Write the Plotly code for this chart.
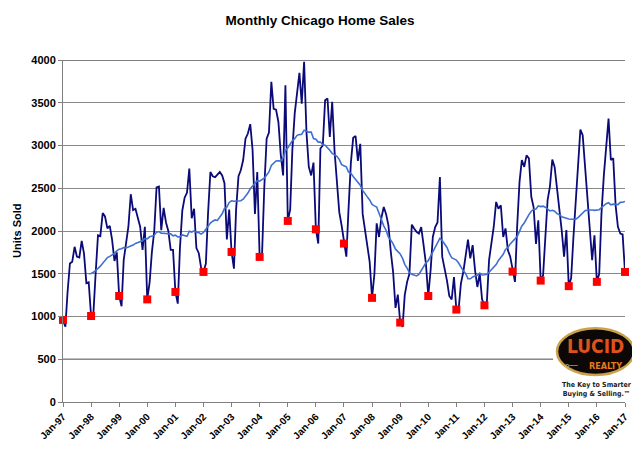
import pandas as pd
import plotly.graph_objects as go

# Monthly Chicago home sales, Jan-1997 .. Jan-2017
sales_1997 = [960, 880, 1280, 1620, 1640, 1815, 1700, 1690, 1885, 1735, 1390, 1400]
sales_1998 = [1006, 1050, 1500, 1950, 1940, 2210, 2170, 2030, 2060, 1900, 1650, 1750]
sales_1999 = [1240, 1120, 1660, 1890, 2050, 2430, 2245, 2260, 2165, 2050, 1780, 2050]
sales_2000 = [1200, 1400, 1750, 2000, 2510, 2520, 2010, 2270, 2100, 2000, 1780, 1780]
sales_2001 = [1287, 1150, 1800, 2240, 2390, 2450, 2730, 2150, 2260, 1800, 1740, 1570]
sales_2002 = [1521, 1620, 2200, 2690, 2640, 2630, 2660, 2690, 2650, 2560, 1900, 2250]
sales_2003 = [1755, 1560, 2250, 2640, 2710, 2830, 3080, 3140, 3250, 2950, 2200, 2690]
sales_2004 = [1697, 1720, 2500, 3080, 3150, 3745, 3430, 3420, 3275, 2900, 2650, 3705]
sales_2005 = [2118, 2250, 2945, 3375, 3610, 3850, 3490, 3978, 3150, 2750, 2650, 2800]
sales_2006 = [2020, 1853, 2965, 3000, 3530, 3550, 3100, 3510, 2930, 2575, 2220, 2067]
sales_2007 = [1853, 1700, 2250, 2800, 3090, 3110, 2820, 3020, 2200, 2030, 1850, 1640]
sales_2008 = [1218, 1500, 2090, 1930, 2150, 2280, 2200, 2067, 1755, 1520, 1100, 1257]
sales_2009 = [929, 878, 1250, 1405, 1500, 2075, 2030, 1990, 1970, 2045, 1835, 1620]
sales_2010 = [1240, 1550, 1930, 2045, 2100, 2630, 1700, 1570, 1420, 1240, 1200, 1460]
sales_2011 = [1081, 1100, 1385, 1520, 1735, 1900, 1680, 1835, 1540, 1345, 1500, 1200]
sales_2012 = [1131, 1160, 1660, 1850, 2050, 2340, 2260, 2300, 1930, 2030, 1775, 1700]
sales_2013 = [1525, 1405, 2050, 2575, 2830, 2750, 2885, 2850, 2400, 2280, 1850, 2125]
sales_2014 = [1420, 1480, 1900, 2360, 2520, 2835, 2750, 2515, 2245, 2010, 1700, 2010]
sales_2015 = [1355, 1450, 1900, 2360, 2750, 3187, 3120, 2750, 2360, 2050, 1660, 1950]
sales_2016 = [1405, 1500, 2200, 2650, 3000, 3315, 2830, 2850, 2300, 2050, 1970, 1960]
sales_2017 = [1521]

y_ticks = [0, 500, 1000, 1500, 2000, 2500, 3000, 3500, 4000]
dark_grid = [500, 1000, 4000]

sales = (sales_1997 + sales_1998 + sales_1999 + sales_2000 + sales_2001 + sales_2002 +
         sales_2003 + sales_2004 + sales_2005 + sales_2006 + sales_2007 + sales_2008 +
         sales_2009 + sales_2010 + sales_2011 + sales_2012 + sales_2013 + sales_2014 +
         sales_2015 + sales_2016 + sales_2017)
months = pd.date_range("1997-01-01", periods=len(sales), freq="MS")
s = pd.Series(sales, index=months)
ma12 = s.rolling(12).mean()
jan = s[s.index.month == 1]

fig = go.Figure()
fig.add_trace(go.Scatter(x=months, y=sales, mode="lines",
                         line=dict(color="#0a0a78", width=1.8), cliponaxis=False))
fig.add_trace(go.Scatter(x=months, y=ma12, mode="lines",
                         line=dict(color="#3f6fd0", width=1.6), cliponaxis=False))
fig.add_trace(go.Scatter(x=jan.index, y=jan.values, mode="markers",
                         marker=dict(symbol="square", size=8, color="#ff0000"),
                         cliponaxis=False))

font_b = dict(family="Liberation Sans", color="black", weight="bold")

for v in dark_grid:
    fig.add_shape(type="line", xref="paper", yref="y", x0=0, x1=1, y0=v, y1=v,
                  line=dict(color="black", width=1.2), layer="below")

# logo area (white patch + emblem)
fig.add_shape(type="rect", xref="paper", yref="paper", x0=0.872, x1=1.03, y0=0.01, y1=0.235,
              fillcolor="white", line=dict(width=0), layer="above")
fig.add_shape(type="circle", xref="paper", yref="paper", x0=0.879, x1=1.016, y0=0.079, y1=0.216,
              fillcolor="#0d0805", line=dict(color="#c9a24a", width=2.5), layer="above")

ann = dict(xref="paper", yref="paper", showarrow=False, xanchor="center", yanchor="middle")
fig.add_annotation(text="LUCID", x=0.948, y=0.165,
                   font=dict(family="DejaVu Sans Condensed", size=19,
                             color="#e0521c", weight="bold"), **ann)
fig.add_annotation(text="REALTY", x=0.966, y=0.106,
                   font=dict(family="DejaVu Sans Condensed", size=9,
                             color="#e8781c", weight="bold"), **ann)
fig.add_annotation(text="o\u2500\u2500", x=0.905, y=0.106,
                   font=dict(family="DejaVu Sans", size=7, color="#bbbbbb"), **ann)
fig.add_annotation(text="The Key to Smarter<br>Buying &amp; Selling.\u2122", x=0.95, y=0.036,
                   align="center",
                   font=dict(family="DejaVu Sans Condensed", size=7, color="#222222",
                             weight="bold"), **ann)

fig.add_annotation(text="Units Sold", x=-0.082, y=0.5, textangle=-90,
                   font=dict(size=11, **font_b), **ann)

fig.update_layout(
    width=632, height=449,
    margin=dict(l=55, r=15, t=52, b=55),
    paper_bgcolor="white", plot_bgcolor="white",
    showlegend=False,
    title=dict(text="Monthly Chicago Home Sales", x=0.4937, xanchor="center",
               y=0.973, yanchor="middle", font=dict(size=13.5, **font_b)),
    font=dict(family="Liberation Sans"),
)
fig.update_xaxes(
    type="date", range=[months[0], months[-1]],
    tickvals=list(jan.index), tickformat="%b-%y", tickangle=-45,
    tickfont=dict(size=10, **font_b), automargin=False,
    showgrid=False, showline=True, linecolor="#7f7f7f", linewidth=1,
    ticks="outside", ticklen=4, tickcolor="#7f7f7f",
)
fig.update_yaxes(
    range=[0, 4000], tickvals=y_ticks,
    tickfont=dict(size=11, **font_b), automargin=False,
    showgrid=True, gridcolor="#8a8a8a", gridwidth=1,
    showline=True, linecolor="#7f7f7f", linewidth=1,
    ticks="outside", ticklen=4, tickcolor="#7f7f7f",
    zeroline=False,
)

fig.write_html("out.html")
